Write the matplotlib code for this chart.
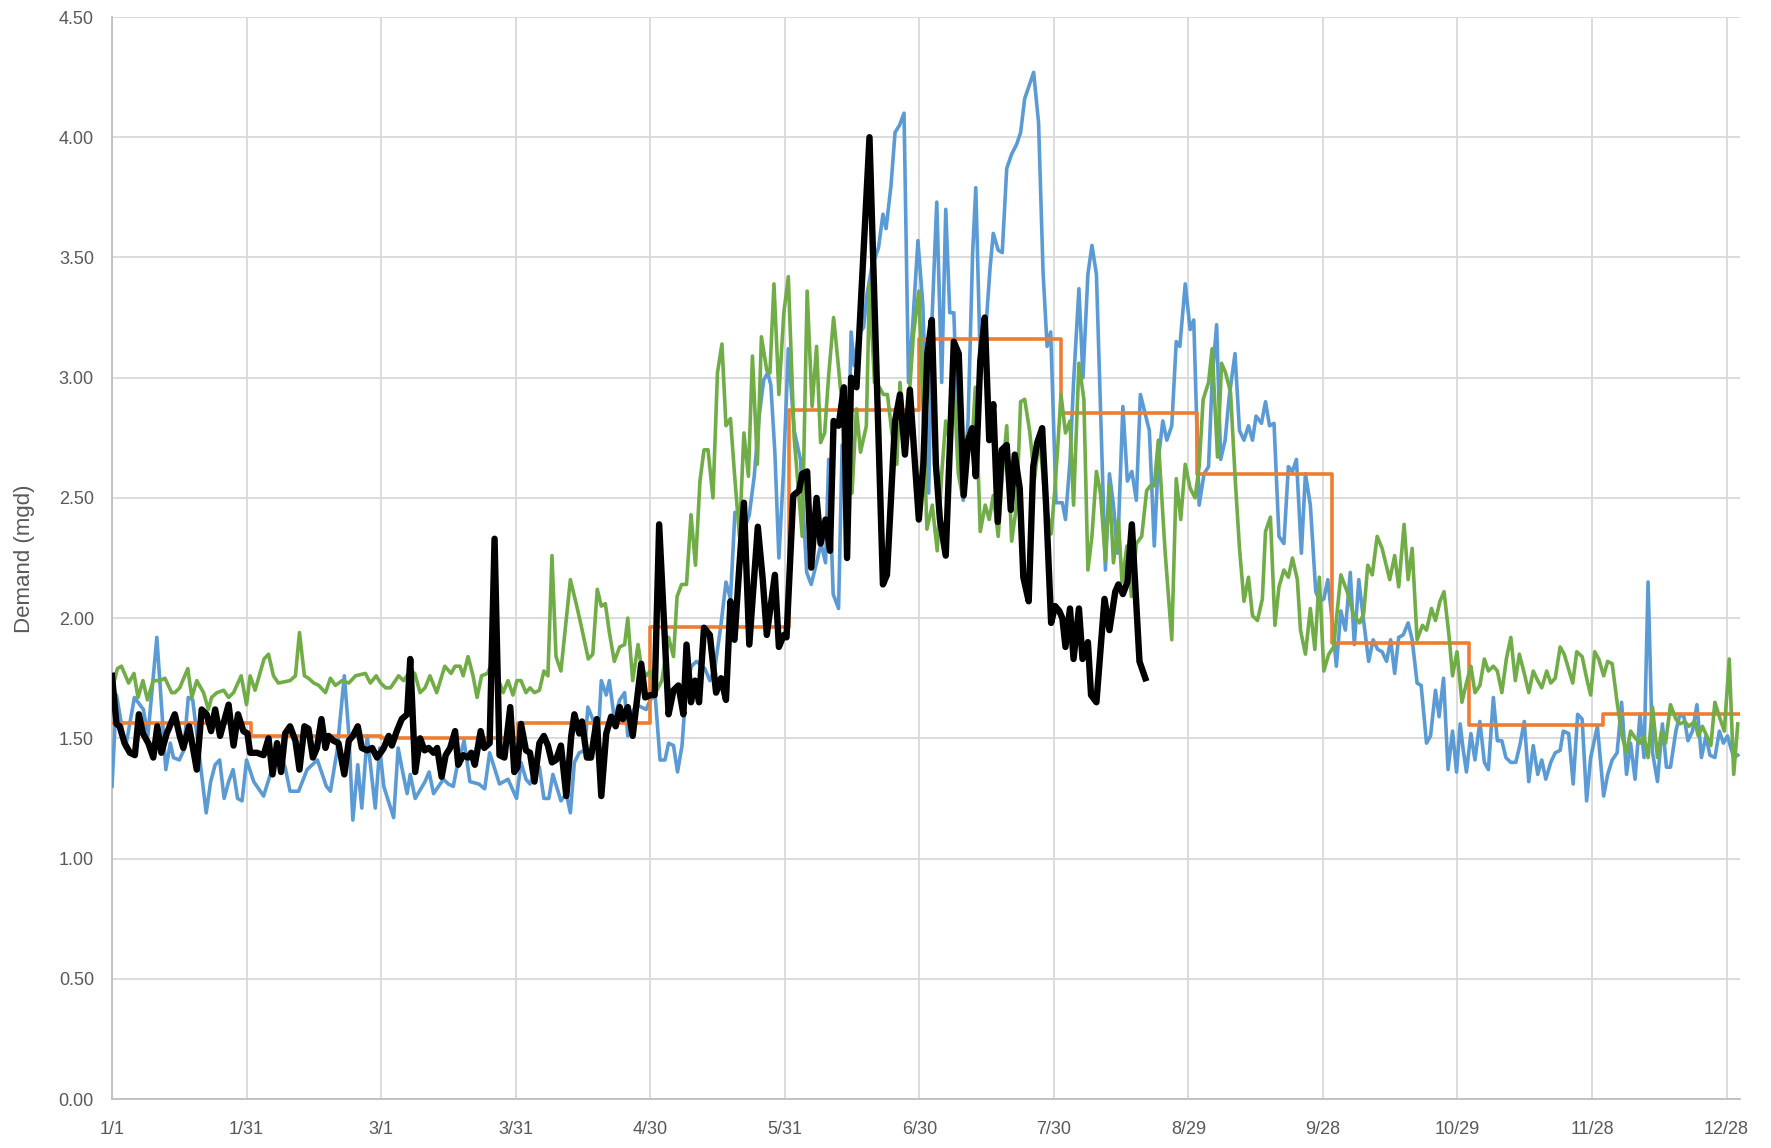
import numpy as np
import matplotlib
matplotlib.use("Agg")
import matplotlib.pyplot as plt

# daily demand readings, (day of year, mgd)
blue_pts = [
    (0, 1.30), (1, 1.68), (3, 1.46), (5, 1.67), (7, 1.62), (8, 1.51), (10, 1.92), (12, 1.37), (13, 1.48), (13.7, 1.42),
    (15, 1.41), (16, 1.45), (17, 1.67), (18, 1.66), (21, 1.19), (22, 1.32), (23, 1.39), (24, 1.41), (25, 1.25), (26, 1.32),
    (27, 1.37), (28, 1.25), (29, 1.24), (30, 1.41), (31.6, 1.32), (33.8, 1.26), (35.3, 1.35), (37.5, 1.44), (38.6, 1.38),
    (39.7, 1.28), (41.6, 1.28), (43.5, 1.37), (45.8, 1.41), (47.8, 1.30), (48.7, 1.28), (50.2, 1.45), (51.8, 1.76),
    (52.8, 1.52), (53.7, 1.16), (54.8, 1.39), (55.7, 1.21), (56.9, 1.51), (58.7, 1.21), (59.7, 1.46), (60.6, 1.30),
    (62.8, 1.17), (63.8, 1.46), (64.6, 1.38), (65.8, 1.27), (66.5, 1.35), (67.6, 1.25), (69.8, 1.32), (70.7, 1.36),
    (71.7, 1.27), (73.9, 1.33), (75, 1.31), (76.1, 1.30), (76.8, 1.37), (78.5, 1.49), (79.8, 1.32), (81.8, 1.31),
    (83.1, 1.29), (84.2, 1.44), (86.4, 1.31), (88.3, 1.33), (90.2, 1.25), (91.2, 1.40), (92.3, 1.33), (93.2, 1.31),
    (94.2, 1.36), (95.3, 1.38), (96.3, 1.25), (97.4, 1.25), (98.3, 1.35), (100.1, 1.24), (101.3, 1.27), (102.2, 1.19),
    (103.1, 1.40), (104.2, 1.44), (105.4, 1.45), (106.1, 1.63), (107.2, 1.58), (108.3, 1.47), (109.1, 1.74), (110.2, 1.68),
    (110.9, 1.74), (112, 1.58), (113.2, 1.66), (114.3, 1.69), (115, 1.51), (115.8, 1.60), (116.9, 1.64), (118, 1.63),
    (119.1, 1.62), (120, 1.66), (121.1, 1.68), (122.2, 1.41), (123.3, 1.41), (124.1, 1.48), (125.2, 1.47), (126.1, 1.36),
    (127.1, 1.47), (128.1, 1.73), (129.2, 1.80), (130.3, 1.82), (132.2, 1.79), (133.3, 1.74), (134.4, 1.79), (135.7, 1.96),
    (136.9, 2.15), (137.9, 2.08), (138.9, 2.44), (139.9, 2.43), (141, 2.37), (142.1, 2.43), (143.2, 2.59), (144.3, 2.84),
    (145.3, 2.99), (146.2, 3.02), (146.9, 2.97), (147.8, 2.69), (148.7, 2.25), (149.7, 2.60), (150.8, 3.12), (152.1, 2.78),
    (153.5, 2.66), (154.9, 2.19), (155.9, 2.14), (157.1, 2.23), (158.1, 2.31), (159.1, 2.23), (159.8, 2.66), (160.8, 2.10),
    (162, 2.04), (162.8, 2.72), (163.9, 2.41), (164.8, 3.19), (165.5, 3.05), (166.5, 3.18), (167.6, 3.21), (168.3, 3.34),
    (169.4, 3.46), (170.9, 3.54), (171.9, 3.68), (172.6, 3.62), (173.7, 3.80), (174.6, 4.02), (175.6, 4.05), (176.6, 4.10),
    (177.6, 2.98), (178.5, 3.21), (179.7, 3.57), (180.8, 3.30), (182.1, 2.52), (182.9, 3.27), (183.9, 3.73), (185, 2.98),
    (185.9, 3.70), (186.8, 3.27), (187.7, 3.27), (188.7, 2.76), (189.8, 2.49), (190.9, 2.83), (191.9, 3.52), (192.6, 3.79),
    (193.6, 3.07), (194.9, 3.22), (195.8, 3.46), (196.5, 3.60), (197.6, 3.53), (198.5, 3.52), (199.5, 3.87), (200.6, 3.93),
    (201.7, 3.97), (202.6, 4.02), (203.5, 4.16), (204.6, 4.22), (205.5, 4.27), (206.6, 4.06), (207.6, 3.44), (208.5, 3.13),
    (209.3, 3.19), (210.5, 2.48), (211.9, 2.48), (212.6, 2.41), (213.6, 2.65), (214.4, 2.98), (215.6, 3.37), (216.5, 3.00),
    (217.6, 3.43), (218.5, 3.55), (219.5, 3.43), (220.4, 2.87), (221.5, 2.20), (222.4, 2.60), (223.3, 2.47), (224.2, 2.27),
    (225.4, 2.88), (226.4, 2.57), (227.4, 2.61), (228.4, 2.49), (229.3, 2.93), (230.1, 2.87), (231.3, 2.78), (232.4, 2.30),
    (233.3, 2.66), (234.3, 2.82), (235.2, 2.74), (236.3, 2.80), (237.3, 3.15), (238.1, 3.13), (239.3, 3.39), (240.4, 3.20),
    (241.2, 3.24), (242.4, 2.47), (243.5, 2.60), (244.5, 2.63), (245.3, 2.99), (246.3, 3.22), (247.2, 2.66), (248.2, 2.74),
    (249.1, 2.92), (250.4, 3.10), (251.4, 2.78), (252.4, 2.74), (253.4, 2.80), (254.3, 2.74), (255.1, 2.84), (256.3, 2.81),
    (257.2, 2.90), (258.1, 2.80), (259.1, 2.81), (260.2, 2.34), (261.3, 2.31), (262.3, 2.63), (263.2, 2.61), (264.1, 2.66),
    (265.2, 2.27), (266.1, 2.60), (267.2, 2.47), (268.4, 2.11), (269.3, 2.07), (270.2, 2.08), (271.1, 2.16), (272, 2.00),
    (273, 1.80), (274, 2.03), (275, 1.95), (276.1, 2.19), (277, 1.89), (278, 2.16), (279, 2.00), (280.2, 1.82), (281.2, 1.91),
    (282.2, 1.87), (283.2, 1.86), (284.2, 1.82), (285.1, 1.91), (286, 1.77), (286.9, 1.92), (287.9, 1.93), (289, 1.98),
    (289.9, 1.91), (291, 1.73), (291.9, 1.72), (293.1, 1.48), (294, 1.51), (295.1, 1.70), (295.9, 1.59), (296.9, 1.75),
    (297.9, 1.37), (298.9, 1.53), (299.8, 1.36), (300.6, 1.56), (301.3, 1.45), (302, 1.36), (303, 1.52), (303.9, 1.41),
    (305, 1.57), (306, 1.40), (306.9, 1.37), (308, 1.67), (308.9, 1.49), (309.9, 1.49), (310.8, 1.42), (311.9, 1.40),
    (313, 1.40), (313.9, 1.47), (314.9, 1.57), (315.9, 1.32), (316.9, 1.47), (317.9, 1.35), (318.8, 1.41), (319.7, 1.33),
    (320.8, 1.40), (321.8, 1.44), (322.9, 1.45), (323.6, 1.53), (324.8, 1.52), (325.8, 1.31), (326.8, 1.60), (327.8, 1.58),
    (328.8, 1.24), (329.7, 1.42), (331.2, 1.55), (332.6, 1.26), (333.5, 1.35), (334.5, 1.41), (335.6, 1.44), (336.6, 1.65),
    (337.7, 1.35), (338.6, 1.48), (339.6, 1.33), (340.7, 1.60), (341.6, 1.42), (342.5, 2.15), (343.5, 1.44), (344.6, 1.32),
    (345.7, 1.56), (346.6, 1.38), (347.5, 1.38), (348.7, 1.53), (349.6, 1.60), (350.5, 1.59), (351.4, 1.49), (352.4, 1.53),
    (353.4, 1.64), (354.4, 1.42), (355.4, 1.51), (356.3, 1.43), (357.4, 1.42), (358.4, 1.53), (359.3, 1.48), (360.2, 1.51),
    (361.6, 1.42), (362.5, 1.43),
]

green_pts = [
    (0, 1.70), (1.2, 1.79), (2.1, 1.80), (3.7, 1.73), (4.9, 1.77), (5.8, 1.67), (6.9, 1.74), (7.9, 1.66), (9.2, 1.74),
    (10.7, 1.74), (11.8, 1.75), (13.3, 1.69), (14, 1.69), (15.1, 1.71), (16.9, 1.79), (17.8, 1.67), (18.9, 1.74),
    (20.4, 1.69), (21.5, 1.62), (22.2, 1.67), (23.4, 1.69), (24.9, 1.70), (26, 1.67), (27.1, 1.69), (28.8, 1.76),
    (30, 1.64), (30.8, 1.76), (31.9, 1.70), (33.9, 1.83), (34.9, 1.85), (36, 1.76), (37.1, 1.73), (39.7, 1.74),
    (40.9, 1.76), (41.8, 1.94), (42.9, 1.76), (43.8, 1.75), (45, 1.73), (46.1, 1.72), (47.6, 1.69), (48.7, 1.75),
    (49.8, 1.72), (51.3, 1.74), (52.8, 1.73), (54.3, 1.76), (56.5, 1.77), (57.6, 1.73), (58.9, 1.76), (59.9, 1.73),
    (61, 1.71), (62.1, 1.71), (63.9, 1.76), (65, 1.74), (66.5, 1.78), (67.5, 1.77), (68.7, 1.69), (69.8, 1.71),
    (70.9, 1.76), (72.4, 1.69), (74.2, 1.80), (75.6, 1.77), (76.5, 1.80), (77.6, 1.80), (78.3, 1.76), (79.4, 1.84),
    (80.5, 1.76), (81.4, 1.67), (82.4, 1.76), (83.7, 1.77), (84.7, 1.81), (85.7, 1.77), (87.2, 1.69), (88.3, 1.74),
    (89.4, 1.68), (90.3, 1.74), (91.2, 1.74), (92.3, 1.69), (93.2, 1.71), (94.2, 1.69), (95.3, 1.70), (96.3, 1.78),
    (97.2, 1.76), (98.1, 2.26), (99, 1.84), (100.1, 1.78), (102.2, 2.16), (103.5, 2.06), (104.6, 1.97), (106.2, 1.83),
    (107.2, 1.85), (108.2, 2.12), (109.1, 2.05), (110, 2.06), (110.9, 1.94), (112, 1.82), (113.2, 1.88), (114.3, 1.89),
    (115, 2.00), (116.1, 1.74), (117.3, 1.89), (118, 1.80), (119.1, 1.76), (120, 1.78), (121.5, 1.70), (122.6, 1.74),
    (124.1, 1.92), (125.2, 1.84), (126, 2.09), (127, 2.14), (128.1, 2.14), (129.1, 2.43), (130.1, 2.22), (131.1, 2.57),
    (132, 2.70), (132.9, 2.70), (134, 2.50), (135, 3.02), (136, 3.14), (136.9, 2.80), (137.9, 2.83), (138.8, 2.60),
    (139.9, 2.34), (140.9, 2.77), (141.9, 2.59), (142.8, 3.09), (143.9, 2.64), (144.8, 3.17), (146, 3.03), (146.7, 3.02),
    (147.6, 3.39), (148.7, 2.93), (149.8, 3.27), (150.8, 3.42), (152.1, 2.75), (153.2, 2.50), (153.9, 2.34), (155, 3.36),
    (156.1, 2.88), (157.1, 3.13), (158, 2.73), (158.9, 2.77), (159.8, 3.01), (160.9, 3.25), (161.8, 3.08), (162.8, 2.88),
    (163.9, 2.72), (165, 2.52), (166, 2.87), (166.9, 2.69), (168.2, 2.80), (168.9, 3.39), (170, 2.98), (171.1, 2.96),
    (172, 2.93), (172.9, 2.93), (173.9, 2.77), (175, 2.64), (175.7, 2.98), (176.8, 2.72), (177.6, 2.88), (178.7, 3.18),
    (179.9, 3.36), (180.7, 2.95), (181.7, 2.37), (182.9, 2.47), (184, 2.28), (185, 2.60), (185.9, 2.82), (186.8, 2.73),
    (187.7, 2.98), (188.7, 2.60), (189.6, 2.51), (190.7, 2.76), (191.8, 2.74), (192.5, 2.96), (193.6, 2.36), (194.7, 2.47),
    (195.6, 2.41), (196.5, 2.51), (197.6, 2.34), (198.5, 2.59), (199.5, 2.80), (200.6, 2.32), (201.7, 2.47), (202.6, 2.90),
    (203.5, 2.91), (204.6, 2.78), (205.7, 2.58), (206.8, 2.75), (208.1, 2.49), (209.4, 2.35), (210.3, 2.55), (210.9, 2.72),
    (211.6, 2.93), (212.6, 2.77), (213.6, 2.82), (214.4, 2.47), (215.6, 3.06), (216.7, 2.91), (217.6, 2.20), (218.5, 2.34),
    (219.5, 2.61), (220.4, 2.52), (221.5, 2.24), (222.4, 2.55), (223.3, 2.23), (224.4, 2.41), (225.2, 2.15), (226.3, 2.30),
    (227.3, 2.09), (228.4, 2.31), (229.6, 2.34), (230.7, 2.53), (231.5, 2.55), (232.4, 2.55), (233.3, 2.74), (234.8, 2.28),
    (236.3, 1.91), (237.3, 2.58), (238.3, 2.41), (239.3, 2.64), (240.4, 2.54), (241.5, 2.50), (242.4, 2.63), (243.3, 2.91),
    (244.5, 2.98), (245.3, 3.12), (246.5, 2.67), (247.4, 3.06), (248.3, 3.02), (249.4, 2.94), (250.5, 2.56), (251.4, 2.29),
    (252.4, 2.07), (253.4, 2.17), (254.3, 2.01), (255.4, 1.99), (256.5, 2.08), (257.2, 2.36), (258.3, 2.42), (259.3, 1.97),
    (260.2, 2.13), (261.3, 2.20), (262.3, 2.17), (263.2, 2.25), (264.3, 2.16), (265, 1.95), (266.1, 1.85), (267.2, 2.04),
    (268.2, 1.87), (269.2, 2.17), (270.2, 1.78), (271.3, 1.85), (272.4, 1.88), (274, 2.18), (275.4, 2.11), (276.9, 2.01),
    (278.2, 1.98), (279.1, 2.02), (280, 2.22), (281, 2.18), (282.1, 2.34), (283.2, 2.29), (284.9, 2.16), (286, 2.26),
    (286.9, 2.13), (288.1, 2.39), (289, 2.16), (289.9, 2.29), (291, 1.91), (292.2, 1.97), (293.1, 1.95), (294.2, 2.04),
    (295.1, 1.99), (296.1, 2.07), (297, 2.11), (298.1, 1.93), (298.9, 1.76), (299.9, 1.86), (301, 1.65), (302, 1.73),
    (303, 1.80), (303.9, 1.69), (305, 1.72), (306, 1.83), (306.9, 1.78), (308, 1.80), (308.9, 1.78), (309.9, 1.69),
    (310.9, 1.83), (311.9, 1.92), (312.9, 1.74), (313.8, 1.85), (314.9, 1.77), (315.9, 1.69), (316.9, 1.78), (317.9, 1.74),
    (318.8, 1.71), (319.9, 1.78), (320.8, 1.73), (321.8, 1.75), (322.9, 1.88), (323.8, 1.85), (325.7, 1.73), (326.6, 1.86),
    (327.8, 1.84), (328.8, 1.75), (329.7, 1.68), (330.6, 1.86), (331.5, 1.83), (332.6, 1.76), (333.5, 1.82), (334.5, 1.81),
    (335.6, 1.65), (336.7, 1.51), (337.7, 1.44), (338.6, 1.53), (339.7, 1.50), (340.7, 1.48), (341.6, 1.51), (342.5, 1.42),
    (343.5, 1.63), (344.6, 1.42), (345.5, 1.53), (346.4, 1.48), (347.5, 1.64), (348.7, 1.58), (349.6, 1.56), (350.7, 1.57),
    (351.6, 1.55), (352.9, 1.57), (353.7, 1.51), (354.6, 1.55), (355.6, 1.51), (356.5, 1.47), (357.4, 1.65), (358.4, 1.59),
    (359.5, 1.53), (360.6, 1.83), (361.6, 1.35), (362.5, 1.56),
]

black_pts = [
    (0, 1.76), (1, 1.56), (1.7, 1.55), (2.8, 1.48), (4, 1.44), (5.1, 1.43), (6, 1.60), (6.9, 1.52), (8.1, 1.48), (9.2, 1.42),
    (10.1, 1.55), (11, 1.44), (12.2, 1.52), (14, 1.60), (15.1, 1.51), (15.9, 1.46), (17.2, 1.55), (18.9, 1.37), (20, 1.62),
    (21.1, 1.60), (22.1, 1.53), (23, 1.62), (24.1, 1.51), (26, 1.64), (27.1, 1.47), (28.1, 1.60), (29.3, 1.53), (30.2, 1.52),
    (30.8, 1.44), (32.3, 1.44), (33.8, 1.43), (34.9, 1.50), (35.8, 1.35), (36.8, 1.48), (37.7, 1.36), (38.6, 1.52),
    (39.7, 1.55), (40.9, 1.49), (41.8, 1.37), (42.9, 1.55), (43.8, 1.54), (44.8, 1.42), (45.7, 1.46), (46.7, 1.58),
    (47.6, 1.46), (48.3, 1.51), (49.4, 1.49), (50.5, 1.48), (51.8, 1.35), (52.8, 1.49), (53.7, 1.51), (54.8, 1.55),
    (55.7, 1.46), (56.9, 1.45), (58, 1.46), (59.1, 1.42), (59.9, 1.44), (60.6, 1.46), (61.7, 1.51), (62.4, 1.47),
    (63.5, 1.53), (64.6, 1.58), (65.8, 1.60), (66.5, 1.83), (67.6, 1.36), (68.7, 1.50), (69.7, 1.45), (70.6, 1.46),
    (71.7, 1.44), (72.5, 1.46), (73.5, 1.34), (74.4, 1.43), (75.4, 1.46), (76.5, 1.53), (77.2, 1.39), (78.3, 1.43),
    (79.4, 1.42), (80.1, 1.44), (80.9, 1.39), (82.2, 1.53), (83, 1.46), (84.2, 1.48), (85.3, 2.33), (86.4, 1.43),
    (87.5, 1.42), (88.8, 1.63), (89.7, 1.36), (90.4, 1.38), (91.2, 1.56), (92.3, 1.45), (93.2, 1.44), (94.2, 1.32),
    (95.3, 1.48), (96.3, 1.51), (97.2, 1.47), (98.1, 1.40), (99, 1.41), (100.1, 1.47), (101.3, 1.26), (102.4, 1.51),
    (103.1, 1.60), (104.2, 1.52), (104.8, 1.57), (105.9, 1.42), (106.8, 1.42), (108.1, 1.58), (109.1, 1.26), (110.2, 1.52),
    (111.3, 1.59), (112.3, 1.55), (113.2, 1.63), (113.9, 1.58), (115, 1.63), (116.1, 1.51), (117, 1.65), (118, 1.81),
    (118.9, 1.67), (120.1, 1.68), (121, 1.68), (122, 2.39), (124.1, 1.60), (125.2, 1.70), (126.3, 1.72), (127.4, 1.60),
    (128.1, 1.89), (129.1, 1.65), (130, 1.74), (130.9, 1.65), (132, 1.96), (133.3, 1.93), (134.7, 1.69), (135.8, 1.75),
    (136.9, 1.66), (137.9, 2.07), (138.8, 1.91), (139.9, 2.22), (140.9, 2.48), (142.1, 1.89), (144, 2.38), (145.1, 2.16),
    (146, 1.93), (147.8, 2.18), (148.7, 1.88), (149.8, 1.93), (150.4, 1.92), (151.9, 2.51), (153.2, 2.53), (153.9, 2.60),
    (155, 2.61), (155.9, 2.21), (157.1, 2.50), (158, 2.31), (159.1, 2.41), (160.1, 2.28), (160.9, 2.82), (162, 2.80),
    (163.2, 2.96), (163.9, 2.25), (164.8, 3.00), (166, 2.96), (168.9, 4.00), (171.9, 2.14), (172.8, 2.18), (174.6, 2.82),
    (175.7, 2.93), (176.8, 2.68), (177.9, 2.95), (179.9, 2.41), (180.9, 2.64), (181.8, 3.10), (182.8, 3.24), (183.7, 2.64),
    (184.6, 2.41), (185.9, 2.26), (186.8, 2.71), (187.7, 3.15), (188.8, 3.10), (189.9, 2.51), (190.9, 2.74), (191.8, 2.79),
    (192.6, 2.59), (193.6, 3.07), (194.6, 3.25), (195.6, 2.74), (196.5, 2.89), (197.5, 2.40), (198.4, 2.70), (199.5, 2.72),
    (200.4, 2.45), (201.3, 2.68), (202.4, 2.54), (203.2, 2.17), (204.4, 2.07), (205.4, 2.63), (206.3, 2.73), (207.4, 2.79),
    (208.3, 2.46), (209.4, 1.98), (210.3, 2.05), (211.2, 2.03), (211.9, 2.00), (212.6, 1.88), (213.6, 2.04), (214.4, 1.83),
    (215.6, 2.04), (216.4, 1.83), (217.6, 1.90), (218.3, 1.68), (219.5, 1.65), (221.3, 2.08), (222.4, 1.95), (223.7, 2.11),
    (224.4, 2.14), (225.4, 2.10), (226.4, 2.15), (227.4, 2.39), (229.1, 1.82), (230.4, 1.75),
]

# monthly target (step line): start day of each step and its level
orange_start = [0, 31, 60, 90.5, 120, 151, 180, 211.5, 242, 272, 302.5, 332.5]
orange_mgd = [1.565, 1.51, 1.50, 1.565, 1.965, 2.865, 3.16, 2.855, 2.60, 1.895, 1.555, 1.60]
last_day = 363

tick_days = [0, 30, 60, 90, 120, 150, 180, 210, 240, 270, 300, 330, 360]
tick_labels = ["1/1", "1/31", "3/1", "3/31", "4/30", "5/31", "6/30", "7/30", "8/29",
               "9/28", "10/29", "11/28", "12/28"]

plt.rcParams['font.family'] = ['Liberation Sans', 'DejaVu Sans']

fig = plt.figure(figsize=(17.71, 11.48), dpi=100)
ax = fig.add_axes([112 / 1771, 49 / 1148, 1628 / 1771, 1082 / 1148])

bx, by = zip(*blue_pts)
gx, gy = zip(*green_pts)
kx, ky = zip(*black_pts)

ax.plot(bx, by, color='#5B9BD5', lw=2.6, zorder=3, solid_joinstyle='round')
ax.step(list(orange_start) + [last_day], list(orange_mgd) + [orange_mgd[-1]],
        where='post', color='#ED7D31', lw=2.6, zorder=4)
ax.plot(gx, gy, color='#70AD47', lw=2.6, zorder=5, solid_joinstyle='round')
ax.plot(kx, ky, color='black', lw=4.6, zorder=6, solid_joinstyle='round')

ax.set_xlim(0, last_day)
ax.set_ylim(0, 4.5)
ax.set_yticks(np.arange(0, 4.51, 0.5))
ax.set_yticklabels([f"{v:.2f}" for v in np.arange(0, 4.51, 0.5)])
ax.set_xticks(tick_days)
ax.set_xticklabels(tick_labels)

ax.grid(True, color='#D9D9D9', lw=1.3, zorder=0)
ax.set_axisbelow(True)
for side in ['top', 'right']:
    ax.spines[side].set_visible(False)
for side in ['left', 'bottom']:
    ax.spines[side].set_color('#BFBFBF')
    ax.spines[side].set_linewidth(1.3)

ax.tick_params(axis='both', colors='#595959', labelsize=13, length=0)
ax.tick_params(axis='x', pad=16)
ax.tick_params(axis='y', pad=13)

fig.text(25 / 1771, 0.513, "Demand (mgd)", rotation=90, ha='center', va='center',
         fontsize=16, color='#595959')

fig.savefig("out.png", dpi=100)
